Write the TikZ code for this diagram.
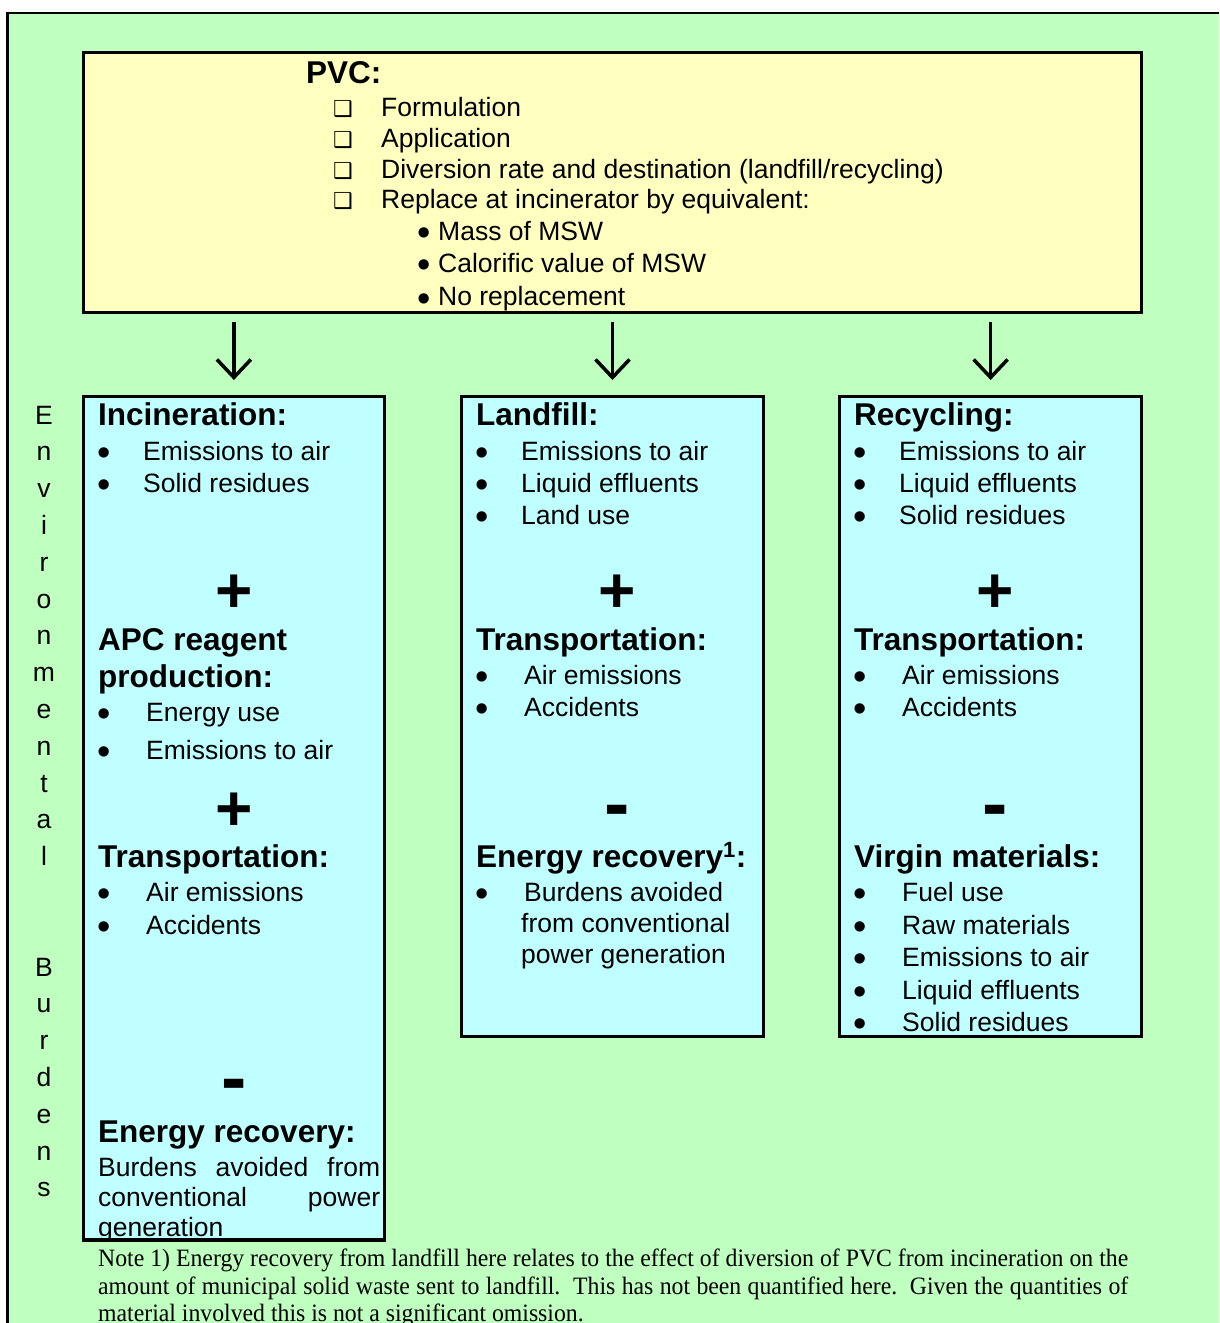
\documentclass[tikz,border=0pt]{standalone}
\usepackage{fontspec}
\setmainfont{Liberation Sans}
\newfontfamily\dejavu{DejaVu Sans}
\newfontfamily\notefont[FakeStretch=0.95]{Liberation Serif}
\usetikzlibrary{arrows.meta}
\definecolor{bggreen}{RGB}{191,255,191}
\definecolor{boxyellow}{RGB}{255,255,192}
\definecolor{boxblue}{RGB}{191,255,255}
\tikzset{
 frame/.style={draw=black, line width=2.8pt},
 ybox/.style={draw, line width=3.2pt, fill=boxyellow, outer sep=0pt, inner sep=0pt, anchor=north west},
 bbox/.style={draw, line width=3.2pt, fill=boxblue, outer sep=0pt, inner sep=0pt, anchor=north west},
 txt/.style={anchor=base west, inner sep=0pt, font=\fontsize{26.5}{31}\selectfont},
 hd/.style={anchor=base west, inner sep=0pt, font=\fontsize{31.5}{37}\selectfont\bfseries},
 bul/.style={anchor=center, inner sep=0pt, font=\fontsize{38}{38}\selectfont},
 sq/.style={anchor=base west, inner sep=0pt, font=\dejavu\fontsize{22}{22}\selectfont},
 plussign/.style={anchor=base, inner sep=0pt, font=\fontsize{64}{64}\selectfont\bfseries},
 minussign/.style={anchor=base, inner sep=0pt, font=\fontsize{76}{76}\selectfont\bfseries},
 vl/.style={anchor=base, inner sep=0pt, font=\fontsize{26.5}{31}\selectfont},
 notetxt/.style={anchor=base west, inner sep=0pt, font=\notefont\fontsize{25}{28}\selectfont},
 arr/.style={line width=3.5pt, -{Straight Barb[length=18pt,width=34pt]}},
}
\newcommand\bitem[5]{%
 \node (#1b) [bul] at (#2,#4-3.2) {•};
 \node (#1) [txt] at (#3,#4) {#5};}
\begin{document}
\begin{tikzpicture}[x=1pt,y=-1pt]
\useasboundingbox (0,0) rectangle (1219,1323);
\fill[bggreen] (7.5,13) rectangle (1219,1323);
\draw[frame] (7.5,1323) -- (7.5,13) -- (1219,13);

% boxes
\node (pvc) [ybox, minimum width=1058.4pt, minimum height=260pt] at (83.3,52.3) {};
\node (inc) [bbox, minimum width=301.2pt, minimum height=843.5pt] at (83.3,396.5) {};
\node (lan) [bbox, minimum width=302pt, minimum height=640pt] at (461.5,396.5) {};
\node (rec) [bbox, minimum width=302.2pt, minimum height=640pt] at (839.5,396.5) {};

% arrows
\draw[arr, shorten <=9.7pt, shorten >=16.5pt] (pvc.south -| inc.north) -- (inc.north);
\draw[arr, shorten <=9.7pt, shorten >=16.5pt] (pvc.south -| lan.north) -- (lan.north);
\draw[arr, shorten <=9.7pt, shorten >=16.5pt] (pvc.south -| rec.north) -- (rec.north);

% PVC box text
\node (pvct) [hd] at (306,83) {PVC:};
\node (s1) [sq] at (333,116) {❑};
\node (p1) [txt] at (381,116) {Formulation};
\node (s2) [sq] at (333,147) {❑};
\node (p2) [txt] at (381,147) {Application};
\node (s3) [sq] at (333,178) {❑};
\node (p3) [txt] at (381,178) {Diversion rate and destination (landfill/recycling)};
\node (s4) [sq] at (333,208) {❑};
\node (p4) [txt] at (381,208) {Replace at incinerator by equivalent:};
\bitem{p5}{424}{438}{240}{Mass of MSW}
\bitem{p6}{424}{438}{272}{Calorific value of MSW}
\bitem{p7}{424}{438}{305.5}{No replacement}

% vertical label
\foreach \c [count=\i from 0] in {E,n,v,i,r,o,n,m,e,n,t,a,l}
  \node (ve\i) [vl] at (44,424+36.8*\i) {\c};
\foreach \c [count=\i from 15] in {B,u,r,d,e,n,s}
  \node (vb\i) [vl] at (44,424+36.8*\i) {\c};

% Incineration
\node (inch) [hd] at (98,425) {Incineration:};
\bitem{i1}{104}{143}{460}{Emissions to air}
\bitem{i2}{104}{143}{492}{Solid residues}
\node (ip1) [plussign] at (234,612.5) {+};
\node (iapc) [hd] at (98,650) {APC reagent};
\node (iapc2) [hd] at (98,687) {production:};
\bitem{i3}{104}{146}{721}{Energy use}
\bitem{i4}{104}{146}{759}{Emissions to air}
\node (ip2) [plussign] at (234,830.5) {+};
\node (itr) [hd] at (98,867) {Transportation:};
\bitem{i5}{104}{146}{901}{Air emissions}
\bitem{i6}{104}{146}{934}{Accidents}
\node (im) [minussign] at (234,1103) {-};
\node (ier) [hd] at (98,1142) {Energy recovery:};
\node (ib1) [txt] at (98,1176) {\makebox[282pt][s]{Burdens avoided from}};
\node (ib2) [txt] at (98,1206) {\makebox[282pt][s]{conventional power}};
\node (ib3) [txt] at (98,1236) {generation};

% Landfill
\node (lh) [hd] at (476,425) {Landfill:};
\bitem{l1}{482}{521}{460}{Emissions to air}
\bitem{l2}{482}{521}{492}{Liquid effluents}
\bitem{l3}{482}{521}{524}{Land use}
\node (lp1) [plussign] at (617,612.5) {+};
\node (ltr) [hd] at (476,650) {Transportation:};
\bitem{l4}{482}{524}{684}{Air emissions}
\bitem{l5}{482}{524}{716}{Accidents}
\node (lm) [minussign] at (617,829) {-};
\node (ler) [hd] at (476,867) {Energy recovery\textsuperscript{1}:};
\bitem{l6}{482}{524}{901}{Burdens avoided}
\node (l7) [txt] at (521,932) {from conventional};
\node (l8) [txt] at (521,963) {power generation};

% Recycling
\node (rh) [hd] at (854,425) {Recycling:};
\bitem{r1}{860}{899}{460}{Emissions to air}
\bitem{r2}{860}{899}{492}{Liquid effluents}
\bitem{r3}{860}{899}{524}{Solid residues}
\node (rp1) [plussign] at (995,612.5) {+};
\node (rtr) [hd] at (854,650) {Transportation:};
\bitem{r4}{860}{902}{684}{Air emissions}
\bitem{r5}{860}{902}{716}{Accidents}
\node (rm) [minussign] at (995,829) {-};
\node (rvm) [hd] at (854,867) {Virgin materials:};
\bitem{r6}{860}{902}{901}{Fuel use}
\bitem{r7}{860}{902}{934}{Raw materials}
\bitem{r8}{860}{902}{966}{Emissions to air}
\bitem{r9}{860}{902}{999}{Liquid effluents}
\bitem{r10}{860}{902}{1031}{Solid residues}

% note
\node (n1) [notetxt] at (98,1266) {\makebox[1030pt][s]{Note 1) Energy recovery from landfill here relates to the effect of diversion of PVC from incineration on the}};
\node (n2) [notetxt] at (98,1294) {\makebox[1030pt][s]{amount of municipal solid waste sent to landfill.\ \ This has not been quantified here.\ \ Given the quantities of}};
\node (n3) [notetxt] at (98,1321) {material involved this is not a significant omission.};
\end{tikzpicture}
\end{document}
